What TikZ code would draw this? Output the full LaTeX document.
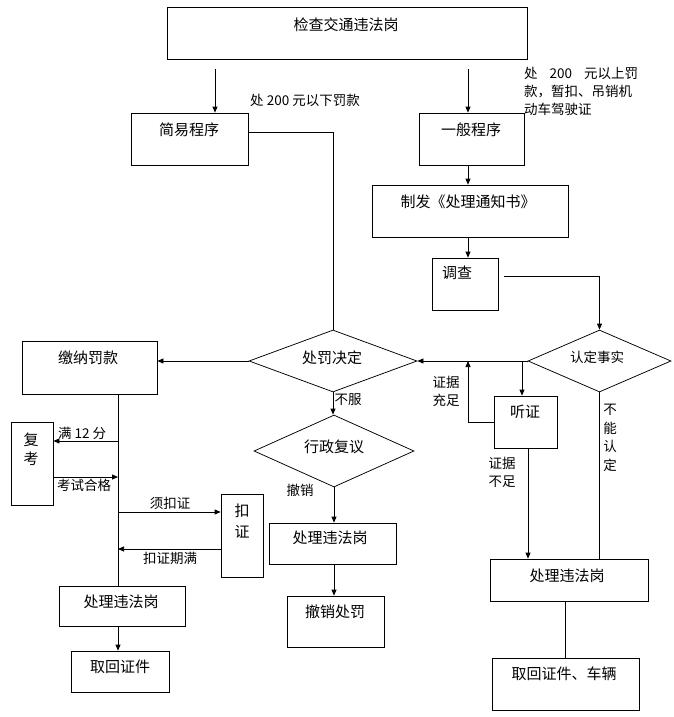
\documentclass[tikz,border=0pt]{standalone}
\usepackage{fontspec}
\newfontfamily\cjk{Noto Sans CJK SC}
\usetikzlibrary{arrows.meta,shapes.geometric}
\tikzset{
  box/.style={draw, line width=0.75pt, inner sep=0pt},
  dia/.style={draw, diamond, line width=0.75pt, inner sep=0pt},
  arr/.style={line width=0.75pt, -{Triangle[length=6pt,width=5pt]}},
  ln/.style={line width=0.75pt},
  big/.style={font=\cjk\fontsize{15}{18}\selectfont, inner sep=0pt},
  small/.style={font=\cjk\fontsize{13.5}{18}\selectfont, inner sep=0pt},
}
\begin{document}
\begin{tikzpicture}[x=1pt,y=-1pt]
\useasboundingbox (0,0) rectangle (674,717);
% boxes
\node[box, minimum width=360pt, minimum height=52pt] (top) at (347,33) {};
\node[big] (topt) at (346,25) {检查交通违法岗};
\node[box, minimum width=117pt, minimum height=52pt] (jianyi) at (189.5,139) {};
\node[big] (jianyit) at (189,130) {简易程序};
\node[box, minimum width=105pt, minimum height=52pt] (yiban) at (471.5,139) {};
\node[big] (yibant) at (471,130) {一般程序};
\node[box, minimum width=196pt, minimum height=52pt] (zhifa) at (470,211) {};
\node[big] (zhifat) at (468,202) {制发《处理通知书》};
\node[box, minimum width=66pt, minimum height=52pt] (diaocha) at (465,284) {};
\node[big] (diaochat) at (457,273) {调查};
\node[box, minimum width=135pt, minimum height=53pt] (jiaona) at (89.5,367.5) {};
\node[big] (jiaonat) at (88,358) {缴纳罚款};
\node[box, minimum width=42pt, minimum height=83pt] (fukao) at (32,463.5) {};
\node[big] (fukaot1) at (31,440) {复};
\node[big] (fukaot2) at (31,459) {考};
\node[box, minimum width=42pt, minimum height=83pt] (kouzheng) at (242,535.5) {};
\node[big] (kzt1) at (242,511) {扣};
\node[big] (kzt2) at (242,532) {证};
\node[box, minimum width=126pt, minimum height=40pt] (chuliL) at (122,606) {};
\node[big] (chuliLt) at (121,602) {处理违法岗};
\node[box, minimum width=98pt, minimum height=41pt] (quhuiL) at (120,671.5) {};
\node[big] (quhuiLt) at (120,667) {取回证件};
\node[box, minimum width=127pt, minimum height=41pt] (chuliM) at (332.5,543.5) {};
\node[big] (chuliMt) at (330,538) {处理违法岗};
\node[box, minimum width=97pt, minimum height=51pt] (chexiao) at (335.5,621.5) {};
\node[big] (chexiaot) at (335,612) {撤销处罚};
\node[box, minimum width=63pt, minimum height=52pt] (tingzheng) at (525.5,422) {};
\node[big] (tingzhengt) at (525,412) {听证};
\node[box, minimum width=158pt, minimum height=42pt] (chuliR) at (569,580) {};
\node[big] (chuliRt) at (567,576) {处理违法岗};
\node[box, minimum width=147pt, minimum height=52pt] (quhuiR) at (565.5,684) {};
\node[big] (quhuiRt) at (564,674) {取回证件、车辆};
% diamonds
\node[dia, minimum width=168pt, minimum height=62pt] (chufa) at (333,361) {};
\node[big] (chufat) at (332,358) {处罚决定};
\node[dia, minimum width=143pt, minimum height=62pt] (rending) at (599.5,361) {};
\node[small] (rendingt) at (597,357) {认定事实};
\node[dia, minimum width=160pt, minimum height=72pt] (xingzheng) at (334,451) {};
\node[big] (xingzhengt) at (334,447) {行政复议};
% labels
\node[small] (l1) at (305,100) {处 200 元以下罚款};
\node[small, anchor=west, align=left] (l2) at (524,91) {\hbox to 114pt{处\hfill 200\hfill 元以上罚}\\款，暂扣、吊销机\\动车驾驶证};
\node[small] (l3) at (348,400) {不服};
\node[small] (l4) at (300,490) {撤销};
\node[small, align=center] (l5) at (446,391) {证据\\充足};
\node[small, align=center] (l6) at (502,472) {证据\\不足};
\node[small, align=center, font=\cjk\fontsize{13.5}{18.5}\selectfont] (l7) at (610,438) {不\\能\\认\\定};
\node[small, anchor=west] (l8) at (58,433) {满 12 分};
\node[small, anchor=west] (l9) at (57,485) {考试合格};
\node[small] (l10) at (170,503) {须扣证};
\node[small] (l11) at (170,558) {扣证期满};
% coordinates
\coordinate (s1) at (215,69);
\coordinate (s2) at (468,69);
\coordinate (c3) at (248,132);
\coordinate (c6) at (504,276);
\coordinate (j1) at (522,0);
\coordinate (j2) at (468,422);
\coordinate (j3) at (528,0);
\coordinate (v) at (118,0);
\coordinate (m1) at (118,441);
\coordinate (m2) at (118,477);
\coordinate (m3) at (118,512);
\coordinate (m4) at (118,549);
% connectors
\draw[arr] (s1) -- (s1 |- jianyi.north);
\draw[arr] (s2) -- (s2 |- yiban.north);
\draw[ln] (c3) -| (chufa.north);
\draw[arr] (yiban.south -| s2) -- (zhifa.north -| s2);
\draw[arr] (zhifa.south -| s2) -- (diaocha.north -| s2);
\draw[arr] (c6) -| (rending.north);
\draw[arr] (rending.west) -- (chufa.east);
\draw[arr] (j1 |- rending.west) -- (j1 |- tingzheng.north);
\draw[arr] (tingzheng.west |- j2) -- (j2) -- (j2 |- rending.west);
\draw[arr] (j3 |- tingzheng.south) -- (j3 |- chuliR.north);
\draw[ln] (rending.south) -- (rending.south |- chuliR.north);
\draw[ln] (chuliR.south -| quhuiR.north) -- (quhuiR.north);
\draw[arr] (chufa.west) -- (chufa.west -| jiaona.east);
\draw[arr] (chufa.south) -- (chufa.south |- xingzheng.north);
\draw[arr] (xingzheng.south) -- (xingzheng.south |- chuliM.north);
\draw[arr] (xingzheng.south |- chuliM.south) -- (xingzheng.south |- chexiao.north);
\draw[ln] (v |- jiaona.south) -- (v |- chuliL.north);
\draw[arr] (m1) -- (m1 -| fukao.east);
\draw[arr] (m2 -| fukao.east) -- (m2);
\draw[arr] (m3) -- (m3 -| kouzheng.west);
\draw[arr] (m4 -| kouzheng.west) -- (m4);
\draw[arr] (v |- chuliL.south) -- (v |- quhuiL.north);
\end{tikzpicture}
\end{document}
